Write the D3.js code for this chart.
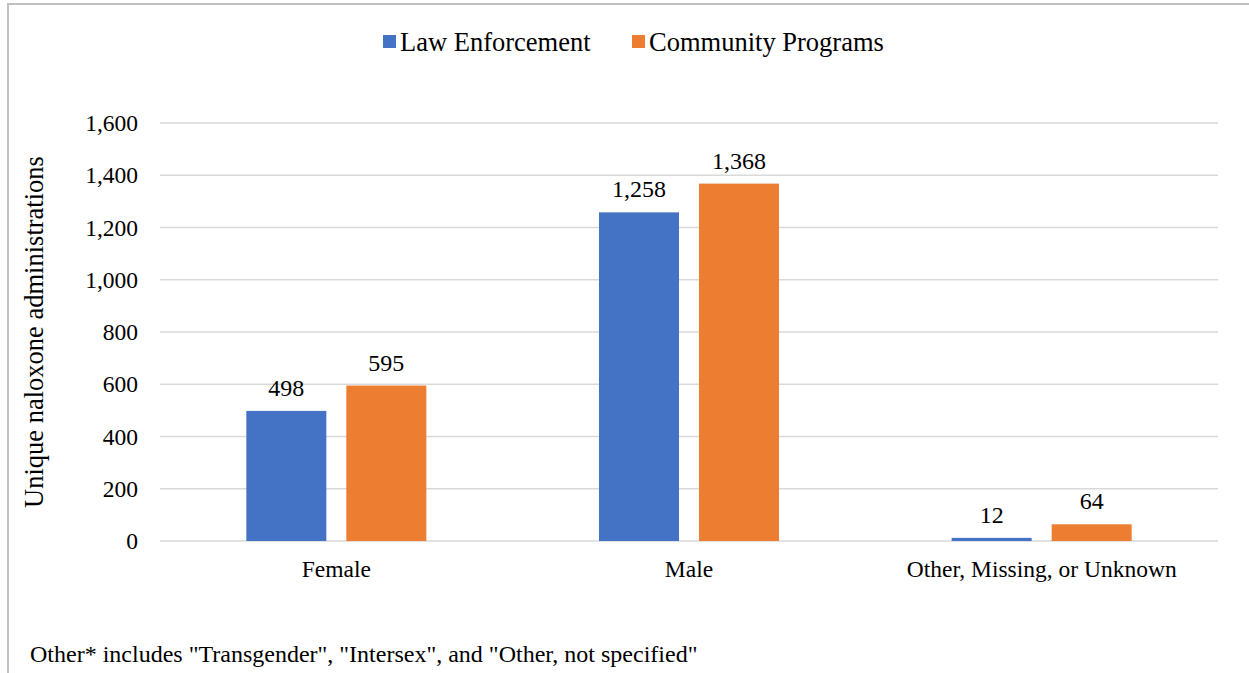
<!DOCTYPE html>
<html>
<head>
<meta charset="utf-8">
<script src="https://cdn.jsdelivr.net/npm/d3@7"></script>
<style>
  body { margin: 0; background: #fff; }
  svg { display: block; }
</style>
</head>
<body>
<div id="chart"></div>
<script>
// Chart data
const categories = ["Female", "Male", "Other, Missing, or Unknown"];
const seriesNames = ["Law Enforcement", "Community Programs"];
const lawEnforcement = [498, 1258, 12];
const communityPrograms = [595, 1368, 64];
const yTicks = [0, 200, 400, 600, 800, 1000, 1200, 1400, 1600];
const colors = ["#4472C4", "#ED7D31"];

const width = 1249, height = 673;
const serif = "'Liberation Serif', 'Times New Roman', serif";

const svg = d3.select("#chart").append("svg")
    .attr("width", width)
    .attr("height", height);

// frame around the figure
svg.append("path")
    .attr("d", "M8,673 L8,4 L1249,4")
    .attr("fill", "none")
    .attr("stroke", "#c0c0c0")
    .attr("stroke-width", 2);

// Scales
const x0 = d3.scaleBand()
    .domain(categories)
    .range([160, 1218]);

const x1 = d3.scaleBand()
    .domain(seriesNames)
    .range([0, 180])
    .paddingInner(0.2);

const y = d3.scaleLinear()
    .domain([0, 1600])
    .range([541, 123]);

function serifText(sel, size) {
    sel.style("font-family", serif)
        .style("font-size", size + "px")
        .attr("fill", "#000");
}

// Gridlines
svg.append("g")
    .selectAll("line")
    .data(yTicks)
    .join("line")
    .attr("x1", 160)
    .attr("x2", 1218)
    .attr("y1", d => y(d))
    .attr("y2", d => y(d))
    .attr("stroke", "#d9d9d9")
    .attr("stroke-width", 1.5);

// Y axis labels
const yAxis = svg.append("g")
    .attr("transform", "translate(149,0)")
    .call(d3.axisLeft(y).tickValues(yTicks).tickFormat(d3.format(",")).tickSize(0).tickPadding(11));
yAxis.select(".domain").remove();
yAxis.selectAll("text").call(serifText, 23.5);

// X axis labels
const xAxis = svg.append("g")
    .attr("transform", "translate(0,541)")
    .call(d3.axisBottom(x0).tickSize(0).tickPadding(19));
xAxis.select(".domain").remove();
xAxis.selectAll("text").call(serifText, 23.5);

// Bars
const rows = categories.map((c, i) => ({
    category: c,
    values: [
        { name: seriesNames[0], value: lawEnforcement[i] },
        { name: seriesNames[1], value: communityPrograms[i] }
    ]
}));

const groups = svg.append("g")
    .selectAll("g")
    .data(rows)
    .join("g")
    .attr("transform", d => "translate(" + (x0(d.category) + (x0.bandwidth() - 180) / 2) + ",0)");

groups.selectAll("rect")
    .data(d => d.values)
    .join("rect")
    .attr("x", d => x1(d.name))
    .attr("y", d => y(d.value))
    .attr("width", x1.bandwidth())
    .attr("height", d => y(0) - y(d.value))
    .attr("fill", (d, i) => colors[i]);

// Data labels
groups.selectAll("text")
    .data(d => d.values)
    .join("text")
    .attr("x", d => x1(d.name) + x1.bandwidth() / 2)
    .attr("y", d => y(d.value) - 15)
    .attr("text-anchor", "middle")
    .call(serifText, 24)
    .text(d => d3.format(",")(d.value));

// Y axis title
svg.append("text")
    .attr("transform", "translate(43,332) rotate(-90)")
    .attr("text-anchor", "middle")
    .call(serifText, 26.5)
    .text("Unique naloxone administrations");

// Legend
const legendX = [383, 632];
const legend = svg.append("g")
    .selectAll("g")
    .data(seriesNames)
    .join("g")
    .attr("transform", (d, i) => "translate(" + legendX[i] + ",35)");
legend.append("rect")
    .attr("width", 13)
    .attr("height", 13)
    .attr("fill", (d, i) => colors[i]);
legend.append("text")
    .attr("x", 17)
    .attr("y", 16)
    .call(serifText, 26.5)
    .text(d => d);

// Footnote
svg.append("text")
    .attr("x", 30)
    .attr("y", 662)
    .call(serifText, 24)
    .text('Other* includes "Transgender", "Intersex", and "Other, not specified"');
</script>
</body>
</html>
